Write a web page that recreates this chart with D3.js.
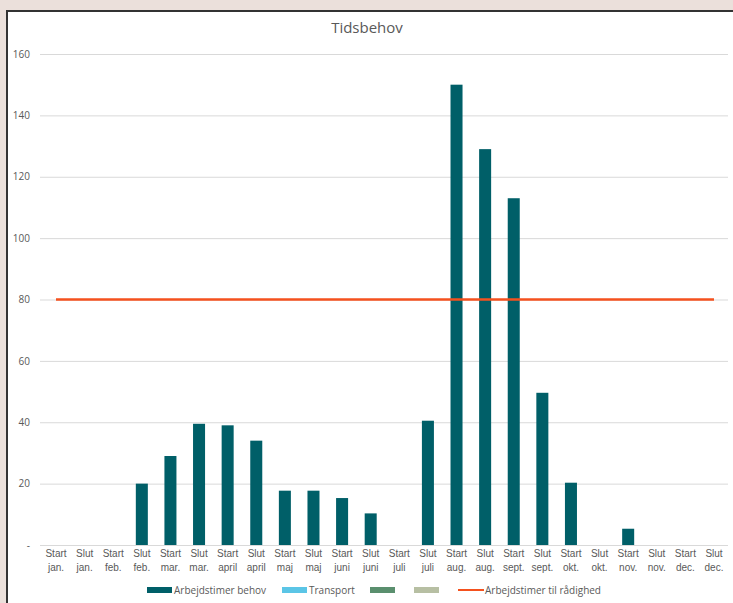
<!DOCTYPE html>
<html><head><meta charset="utf-8">
<script src="https://cdn.jsdelivr.net/npm/d3@7"></script>
<style>
html,body{margin:0;padding:0;background:#ebe0db;}
svg{display:block;font-family:"Open Sans","DejaVu Sans",sans-serif;}
</style></head><body>
<svg id="c" width="733" height="603"></svg>
<script>
const categories = [
 ["Start","jan."],["Slut","jan."],["Start","feb."],["Slut","feb."],["Start","mar."],["Slut","mar."],
 ["Start","april"],["Slut","april"],["Start","maj"],["Slut","maj"],["Start","juni"],["Slut","juni"],
 ["Start","juli"],["Slut","juli"],["Start","aug."],["Slut","aug."],["Start","sept."],["Slut","sept."],
 ["Start","okt."],["Slut","okt."],["Start","nov."],["Slut","nov."],["Start","dec."],["Slut","dec."]];
const arbejdstimerBehov = [0,0,0,20,29,39.5,39,34,17.7,17.7,15.3,10.3,0,40.5,150,129,113,49.6,20.3,0,5.3,0,0,0];
const arbejdstimerTilRaadighed = [80,80,80,80,80,80,80,80,80,80,80,80,80,80,80,80,80,80,80,80,80,80,80,80];
const yTicks = [0,20,40,60,80,100,120,140,160];
const title = "Tidsbehov";
const legendItems = [
 {label:"Arbejdstimer behov", color:"#005f68", type:"rect"},
 {label:"Transport", color:"#5bc5e6", type:"rect"},
 {label:"", color:"#5a8f6e", type:"rect"},
 {label:"", color:"#b7bfa3", type:"rect"},
 {label:"Arbejdstimer til rådighed", color:"#f4511e", type:"line"}];

const svg = d3.select("#c");
// chart area box
svg.append("rect").attr("x",7).attr("y",11).attr("width",740).attr("height",600)
  .attr("fill","#ffffff").attr("stroke","#333").attr("stroke-width",2);

const keys = categories.map((d,i)=>i);
const x = d3.scaleBand().domain(keys).range([41.7,728.3]).paddingInner(0.58).paddingOuter(0.29);
const xc = d3.scaleBand().domain(keys).range([41.7,728.3]);
const y = d3.scaleLinear().domain([0,160]).range([545,54]);

svg.append("text").attr("x",367).attr("y",33).attr("text-anchor","middle")
  .attr("font-size",15).attr("fill","#595959").text(title);

// gridlines
const yAxis = d3.axisLeft(y).tickValues(yTicks).tickSize(-(728-40)).tickFormat(d=>d===0?"-":d);
const gy = svg.append("g").attr("transform","translate(40,0)").call(yAxis);
gy.select(".domain").remove();
gy.selectAll(".tick line").attr("stroke","#d9d9d9").attr("stroke-width",1);
gy.selectAll(".tick text").attr("x",-10).attr("font-size",10).attr("fill","#595959")
  .attr("font-family","Open Sans, sans-serif");

// bars
svg.append("g").selectAll("rect").data(arbejdstimerBehov).join("rect")
  .attr("x",(d,i)=>x(i)).attr("width",x.bandwidth())
  .attr("y",d=>y(d)).attr("height",d=>y(0)-y(d)).attr("fill","#005f68");

// line
const line = d3.line().x((d,i)=>xc(i)+xc.bandwidth()/2).y(d=>y(d));
svg.append("path").datum(arbejdstimerTilRaadighed).attr("d",line)
  .attr("fill","none").attr("stroke","#f4511e").attr("stroke-width",2.5);

// x axis labels
const xAxis = d3.axisBottom(xc).tickSize(0).tickFormat("");
const gx = svg.append("g").attr("transform","translate(0,545)").call(xAxis);
gx.select(".domain").remove();
gx.selectAll(".tick").each(function(d){
  const t = d3.select(this).append("text").attr("fill","#595959").attr("font-size",10)
    .attr("text-anchor","middle");
  t.append("tspan").attr("x",0).attr("y",12).text(categories[d][0]);
  t.append("tspan").attr("x",0).attr("y",26).text(categories[d][1]);
});

// legend
const legendX = [147,282,370,414,458];
const lg = svg.append("g");
legendItems.forEach((it,i)=>{
  const g = lg.append("g").attr("transform",`translate(${legendX[i]},590)`);
  if(it.type==="rect"){
    g.append("rect").attr("x",0).attr("y",-3).attr("width",25).attr("height",6).attr("fill",it.color);
  } else {
    g.append("line").attr("x1",0).attr("x2",26).attr("y1",0).attr("y2",0).attr("stroke",it.color).attr("stroke-width",2);
  }
  if(it.label) g.append("text").attr("x",27).attr("y",4).attr("font-size",10).attr("fill","#595959").text(it.label);
});
</script>
</body></html>
